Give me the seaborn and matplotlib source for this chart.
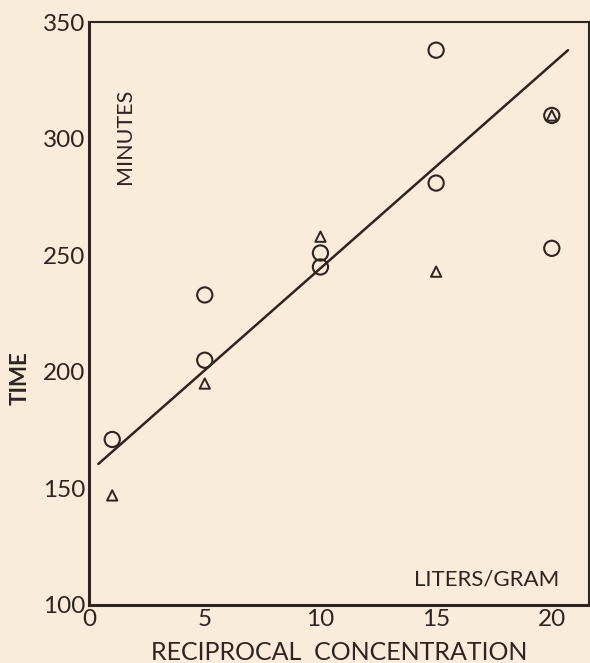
import numpy as np
import pandas as pd
import seaborn as sns
from matplotlib import pyplot as plt

# values
circle_x = [1, 5, 5, 10, 10, 15, 15, 20, 20]
circle_y = [171, 205, 233, 245, 251, 281, 338, 310, 253]
triangle_x = [1, 5, 10, 15, 20]
triangle_y = [147, 195, 258, 243, 310]
fit_x = [0.4, 20.7]
fit_y = [160.5, 338]

x_ticks = [0, 5, 10, 15, 20]
y_ticks = [100, 150, 200, 250, 300, 350]

if __name__ == '__main__':
    INK = "#2e2420"
    PAPER = "#f9ecda"

    sns.set_style("white")
    plt.rcParams['font.family'] = ['Lato', 'DejaVu Sans']

    circles = pd.DataFrame({"conc": circle_x, "time": circle_y})
    triangles = pd.DataFrame({"conc": triangle_x, "time": triangle_y})
    fit = pd.DataFrame({"conc": fit_x, "time": fit_y})

    fig = plt.figure(figsize=(5.9, 6.63), dpi=100, facecolor=PAPER)
    ax = fig.add_axes([0.151, 0.0875, 0.847, 0.879])
    ax.set_facecolor(PAPER)

    sns.lineplot(data=fit, x="conc", y="time", color=INK, lw=1.8, ax=ax)
    sns.scatterplot(data=circles, x="conc", y="time", marker="o", s=120,
                    facecolor="none", edgecolor=INK, linewidth=1.5, ax=ax, zorder=3)
    sns.scatterplot(data=triangles, x="conc", y="time", marker="^", s=55,
                    facecolor="none", edgecolor=INK, linewidth=1.4, ax=ax, zorder=3)

    ax.set_xlim(0, 21.6)
    ax.set_ylim(100, 350)
    ax.set_xticks(x_ticks)
    ax.set_yticks(y_ticks)
    ax.tick_params(direction="in", length=8, width=1.3, colors=INK,
                   labelsize=17.5, pad=3)
    for side in ["left", "bottom", "top", "right"]:
        ax.spines[side].set_color(INK)
        ax.spines[side].set_linewidth(1.5)
    ax.spines["left"].set_linewidth(2.2)
    ax.spines["bottom"].set_linewidth(2.2)

    ax.set_xlabel("RECIPROCAL  CONCENTRATION", fontsize=18, color=INK, labelpad=8)
    ax.set_ylabel("TIME", fontsize=16, fontweight="bold", color=INK, labelpad=2)
    ax.yaxis.set_label_coords(-0.117, 0.39)

    ax.text(1.55, 301, "MINUTES", rotation=90, ha="center", va="center",
            fontsize=15.5, color=INK)
    ax.text(17.2, 111, "LITERS/GRAM", ha="center", va="center",
            fontsize=16, color=INK)

    plt.savefig("out.png", dpi=100, facecolor=PAPER)
